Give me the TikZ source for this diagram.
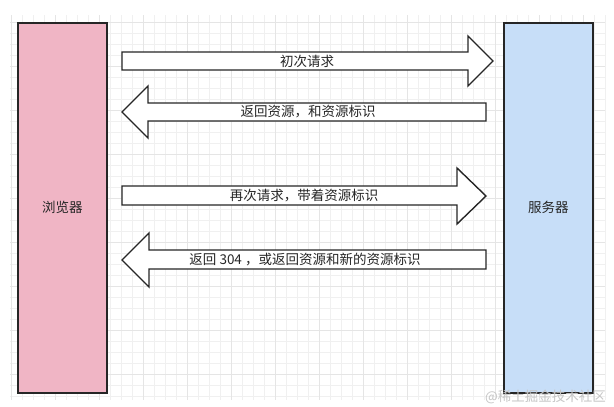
\documentclass[tikz,border=0pt]{standalone}
\usepackage{fontspec}
\newfontfamily\cjk{Noto Sans CJK SC}
\usetikzlibrary{positioning}
\definecolor{browserpink}{RGB}{240,181,197}
\definecolor{serverblue}{RGB}{199,222,248}
\definecolor{edgegray}{RGB}{38,38,38}

\tikzset{
  box/.style={draw=edgegray, line width=1.6pt, inner sep=0pt,
    minimum width=89pt, minimum height=370pt, anchor=north west,
    font=\cjk\fontsize{13.5}{15}\selectfont, text=black!85},
  blockarrow/.style={draw=edgegray, fill=white, line width=1.4pt, line join=miter},
  msg/.style={font=\cjk\fontsize{13.5}{15}\selectfont, text=black!85, inner sep=1pt},
  gridline/.style={gray!12, line width=0.5pt},
}

\begin{document}
\begin{tikzpicture}[x=1pt, y=-1pt]
  \useasboundingbox (0,0) rectangle (614,407);
  \fill[white] (0,0) rectangle (614,407);
  % background grid
  \foreach \gx in {11,22,...,605} {
    \draw[gridline] (\gx,15) -- (\gx,400);
  }
  \foreach \gy in {22,33,...,400} {
    \draw[gridline] (10,\gy) -- (605,\gy);
  }
  \foreach \gx in {11,55,...,605} {
    \draw[gridline, gray!20] (\gx,15) -- (\gx,400);
  }
  \foreach \gy in {22,66,...,400} {
    \draw[gridline, gray!20] (10,\gy) -- (605,\gy);
  }

  \node[box, fill=browserpink] (browser) at (17,22) {浏览器};
  \node[box, fill=serverblue] (server) at (503,22) {服务器};

  % requests and responses
  \draw[blockarrow] (122,52) -- (468,52) -- (468,36) -- (493,61)
    -- (468,86) -- (468,70) -- (122,70) -- cycle;
  \node[msg] (req1) at (307,61) {初次请求};

  \draw[blockarrow] (122,112) -- (148,86) -- (148,103) -- (486,103)
    -- (486,121) -- (148,121) -- (148,138) -- cycle;
  \node[msg] (resp1) at (308,112) {返回资源，和资源标识};

  \draw[blockarrow] (122,186) -- (457,186) -- (457,168) -- (486,196)
    -- (457,224) -- (457,205) -- (122,205) -- cycle;
  \node[msg] (req2) at (304,196) {再次请求，带着资源标识};

  \draw[blockarrow] (122,260) -- (149,233) -- (149,250) -- (486,250)
    -- (486,269) -- (149,269) -- (149,287) -- cycle;
  \node[msg] (resp2) at (305,260) {返回 304 ，或返回资源和新的资源标识};

  \node[msg, text=gray!45, anchor=east] (mark) at (607,397) {@稀土掘金技术社区};
\end{tikzpicture}
\end{document}
